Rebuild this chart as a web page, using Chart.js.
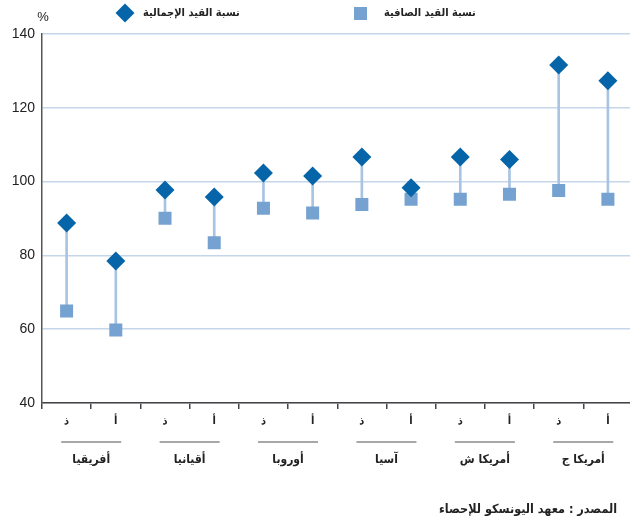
<!DOCTYPE html>
<html>
<head>
<meta charset="utf-8">
<script src="https://cdn.jsdelivr.net/npm/chart.js@4.4.0/dist/chart.umd.min.js"></script>
<style>
  html, body { margin: 0; padding: 0; background: #fff; overflow: hidden; }
  #wrap { width: 642px; height: 525px; position: relative; }
</style>
</head>
<body>
<div id="wrap"><canvas id="chart"></canvas></div>
<script>
// sub-categories (ذ / أ) and regions, left to right
var subLabels = ['ذ', 'أ', 'ذ', 'أ', 'ذ', 'أ', 'ذ', 'أ', 'ذ', 'أ', 'ذ', 'أ'];
var regions = ['أفريقيا', 'أقيانيا', 'أوروبا', 'آسيا', 'أمريكا ش', 'أمريكا ج'];

// gross enrolment ratio (diamonds)
var grossRatio = [88.8, 78.5, 97.7, 95.8, 102.3, 101.5, 106.7, 98.3, 106.7, 106, 131.6, 127.3];
// net enrolment ratio (squares)
var netRatio = [64.9, 59.8, 90.1, 83.4, 92.8, 91.5, 93.8, 95.2, 95.2, 96.6, 97.6, 95.2];

var yTicks = [40, 60, 80, 100, 120, 140];

var grossName = 'نسبة القيد الإجمالية';
var netName = 'نسبة القيد الصافية';
var sourceText = 'المصدر : معهد اليونسكو للإحصاء';

var arFont = '"DejaVu Sans Condensed", "DejaVu Sans", sans-serif';

// connecting stems built from the two series
var stems = netRatio.map(function (v, i) { return [v, grossRatio[i]]; });

var extras = {
    id: 'extras',
    afterDraw: function (chart) {
        var ctx = chart.ctx;
        var x = chart.scales.x;
        ctx.save();

        // region groups: line + name under each pair
        regions.forEach(function (name, i) {
            var a = x.getPixelForValue(i * 2);
            var b = x.getPixelForValue(i * 2 + 1);
            var c = (a + b) / 2;
            ctx.strokeStyle = '#8a8a8a';
            ctx.lineWidth = 1.5;
            ctx.beginPath();
            ctx.moveTo(c - 30, 442);
            ctx.lineTo(c + 30, 442);
            ctx.stroke();
            ctx.fillStyle = '#222';
            ctx.font = 'bold 12px ' + arFont;
            ctx.textAlign = 'center';
            ctx.textBaseline = 'middle';
            ctx.fillText(name, c, 460);
        });

        // percent sign
        ctx.font = '13px "Liberation Sans", sans-serif';
        ctx.textAlign = 'center';
        ctx.fillText('%', 43, 17);

        // legend
        ctx.fillStyle = '#0565a8';
        ctx.beginPath();
        ctx.moveTo(125, 3.5); ctx.lineTo(134.5, 13); ctx.lineTo(125, 22.5); ctx.lineTo(115.5, 13);
        ctx.closePath();
        ctx.fill();
        ctx.fillStyle = '#75a2d0';
        ctx.fillRect(354, 7, 13, 13);

        ctx.fillStyle = '#222';
        ctx.font = 'bold 11px ' + arFont;
        ctx.textAlign = 'left';
        ctx.fillText(grossName, 143, 13);
        ctx.fillText(netName, 384, 13);

        // source
        ctx.font = 'bold 12.5px ' + arFont;
        ctx.textAlign = 'right';
        ctx.fillText(sourceText, 617, 510);

        ctx.restore();
    }
};

new Chart(document.getElementById('chart'), {
    data: {
        labels: subLabels,
        datasets: [
            {
                type: 'line',
                label: grossName,
                data: grossRatio,
                showLine: false,
                pointStyle: 'rectRot',
                pointRadius: 9.5,
                pointHoverRadius: 9.5,
                backgroundColor: '#0565a8',
                borderColor: '#0565a8',
                borderWidth: 0,
                order: 1
            },
            {
                type: 'line',
                label: netName,
                data: netRatio,
                showLine: false,
                pointStyle: 'rect',
                pointRadius: 9.2,
                pointHoverRadius: 9.2,
                backgroundColor: '#75a2d0',
                borderColor: '#75a2d0',
                borderWidth: 0,
                order: 2
            },
            {
                type: 'bar',
                label: 'stem',
                data: stems,
                barThickness: 2,
                backgroundColor: '#a9c4e2',
                borderWidth: 0,
                order: 3
            }
        ]
    },
    options: {
        responsive: true,
        maintainAspectRatio: false,
        animation: false,
        layout: { padding: { top: 34, right: 0, left: 0, bottom: 0 } },
        scales: {
            x: {
                offset: true,
                grid: {
                    display: true,
                    drawOnChartArea: false,
                    drawTicks: true,
                    tickLength: 6,
                    color: '#444',
                    lineWidth: 1.5,
                    offset: true
                },
                border: { color: '#444', width: 1.5 },
                ticks: {
                    color: '#222',
                    padding: 6,
                    maxRotation: 0,
                    autoSkip: false,
                    font: { family: arFont, size: 11, weight: 'bold' }
                },
                afterFit: function (scale) { scale.height = 122; }
            },
            y: {
                min: 40,
                max: 140,
                afterBuildTicks: function (scale) {
                    scale.ticks = yTicks.map(function (v) { return { value: v }; });
                },
                grid: {
                    color: '#c6d6ea',
                    lineWidth: 1.5,
                    drawTicks: false
                },
                border: { color: '#555', width: 1.5 },
                ticks: {
                    color: '#222',
                    padding: 7,
                    font: { family: '"Liberation Sans", Arial, sans-serif', size: 14 }
                },
                afterFit: function (scale) { scale.width = 42; }
            }
        },
        plugins: {
            legend: { display: false },
            tooltip: { enabled: false }
        }
    },
    plugins: [extras]
});
</script>
</body>
</html>
